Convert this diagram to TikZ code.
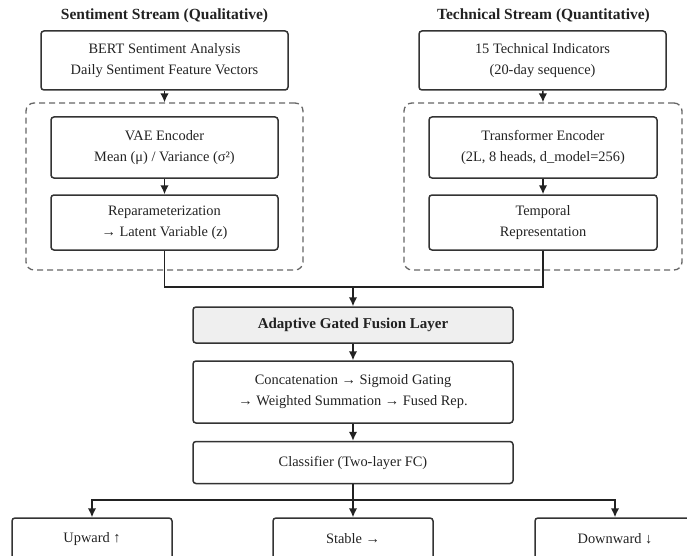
\documentclass[tikz,border=0pt]{standalone}
\usepackage{fontspec}
\setmainfont{Liberation Serif}
\usetikzlibrary{arrows.meta}
\definecolor{boxline}{HTML}{333333}
\definecolor{grpline}{HTML}{666666}
\definecolor{arrcol}{HTML}{222222}
\definecolor{textcol}{HTML}{222222}
\definecolor{fusefill}{HTML}{EFEFEF}

\begin{document}
\begin{tikzpicture}[x=1pt,y=-1pt]
  \tikzstyle{box} = [draw=boxline,line width=1.5pt,rounded corners=3pt,align=center,inner sep=0pt,
    text=textcol,font=\fontsize{14.4}{21}\selectfont]
  \tikzstyle{group} = [draw=grpline,line width=1.3pt,dash pattern=on 6pt off 4pt,rounded corners=8pt,inner sep=0pt]
  \tikzstyle{title} = [text=textcol,font=\fontsize{15.5}{18}\selectfont\bfseries]
  \tikzstyle{arr} = [draw=arrcol,line width=1.5pt,-{Latex[length=9pt,width=8.5pt]}]
  \tikzstyle{link} = [draw=arrcol,line width=1.5pt]
  \clip (0,0) rectangle (687,556);

  % two input streams
  \node[title] (senttitle) at (164.5,16) {Sentiment Stream (Qualitative)};
  \node[title] (techtitle) at (543.5,16) {Technical Stream (Quantitative)};
  \node[group,minimum width=277pt,minimum height=167pt] (sentgrp) at (164.5,186.5) {};
  \node[group,minimum width=278pt,minimum height=167pt] (techgrp) at (543,186.5) {};

  \node[box,minimum width=247pt,minimum height=59pt] (bert) at (164.5,60.5)
    {BERT Sentiment Analysis\\Daily Sentiment Feature Vectors};
  \node[box,minimum width=247pt,minimum height=59pt] (tech) at (542.5,60.5)
    {15 Technical Indicators\\(20-day sequence)};
  \node[box,minimum width=227pt,minimum height=61pt] (vae) at (164.5,147.5)
    {VAE Encoder\\Mean (μ) / Variance (σ²)};
  \node[box,minimum width=227pt,minimum height=55pt] (repar) at (164.5,222.5)
    {Reparameterization\\→ Latent Variable (z)};
  \node[box,minimum width=228pt,minimum height=61pt] (trans) at (543,147.5)
    {Transformer Encoder\\(2L, 8 heads, d\_model=256)};
  \node[box,minimum width=228pt,minimum height=55pt] (temp) at (543,222.5)
    {Temporal\\Representation};

  % fusion and classifier
  \node[box,fill=fusefill,minimum width=320pt,minimum height=36pt,font=\fontsize{15}{18}\selectfont\bfseries]
    (fusion) at (353,325) {Adaptive Gated Fusion Layer};
  \node[box,minimum width=320pt,minimum height=62pt] (concat) at (353,392)
    {Concatenation → Sigmoid Gating\\→ Weighted Summation → Fused Rep.};
  \node[box,minimum width=320pt,minimum height=42pt] (clf) at (353,462.5)
    {Classifier (Two-layer FC)};
  \foreach \n/\x/\t in {up/92/Upward ↑, stable/353/Stable →, down/615/Downward ↓} {
    \node[box,minimum width=160pt,minimum height=42pt] (\n) at (\x,539) {\t};
  }

  \draw[arr] (bert) -- (sentgrp.north);
  \draw[arr] (tech) -- (techgrp.north);
  \draw[arr] (vae) -- (repar);
  \draw[arr] (trans) -- (temp);

  \coordinate (join) at (353,287);
  \draw[link] (repar.south) |- (join) -| (temp.south);
  \draw[arr] (join) -- (fusion);
  \draw[arr] (fusion) -- (concat);
  \draw[arr] (concat) -- (clf);

  \coordinate (split) at (353,500);
  \draw[link] (clf) -- (split);
  \foreach \n in {up,stable,down} {
    \draw[arr] (split) -| (\n.north);
  }
\end{tikzpicture}
\end{document}
